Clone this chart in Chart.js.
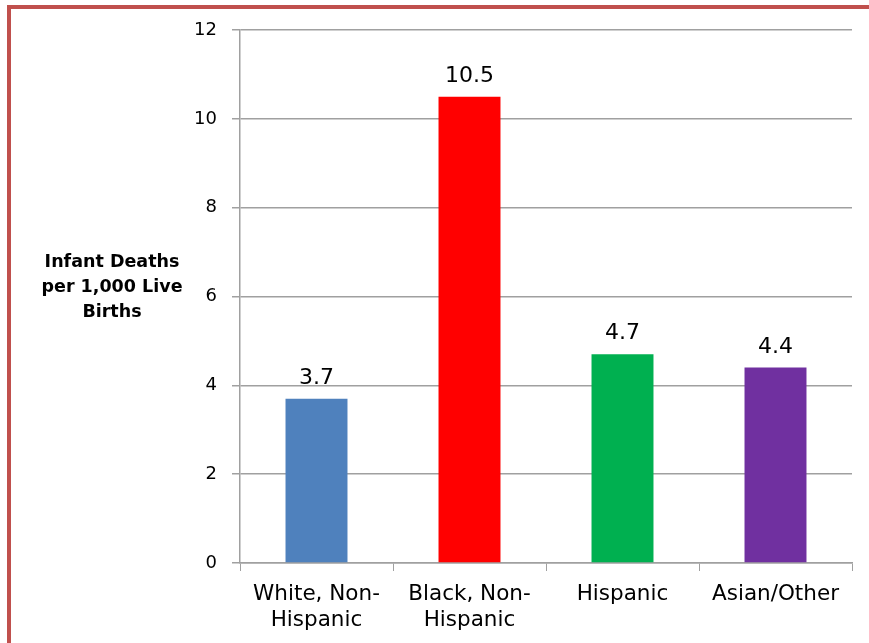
<!DOCTYPE html>
<html>
<head>
<meta charset="utf-8">
<script src="https://cdn.jsdelivr.net/npm/chart.js@4/dist/chart.umd.min.js"></script>
<style>
  html, body { margin: 0; padding: 0; background: #fff; overflow: hidden; }
  #wrap { position: relative; width: 869px; height: 643px; }
  #frame { position: absolute; left: 7px; top: 5px; right: -10px; bottom: -10px;
           border-left: 4px solid #C0504D; border-top: 4px solid #C0504D; pointer-events: none; }
  canvas { position: absolute; left: 0; top: 0; }
</style>
</head>
<body>
<div id="wrap">
  <canvas id="c" width="869" height="643"></canvas>
  <div id="frame"></div>
</div>
<script>
const categories = [["White, Non-", "Hispanic"], ["Black, Non-", "Hispanic"], ["Hispanic"], ["Asian/Other"]];
const values = [3.7, 10.5, 4.7, 4.4];
const barColors = ["#4F81BD", "#FF0000", "#00B050", "#7030A0"];
const yTitleLines = ["Infant Deaths", "per 1,000 Live", "Births"];
const yMin = 0, yMax = 12, yStep = 2;

const FONT = "'DejaVu Sans', Verdana, sans-serif";
const GRID = "#a0a0a0";

const valueLabels = {
  id: "valueLabels",
  afterDatasetsDraw(chart) {
    const ctx = chart.ctx;
    const meta = chart.getDatasetMeta(0);
    ctx.save();
    ctx.font = "22px " + FONT;
    ctx.fillStyle = "#000";
    ctx.textAlign = "center";
    ctx.textBaseline = "alphabetic";
    meta.data.forEach((bar, i) => {
      ctx.fillText(String(values[i]), bar.x, bar.y - 15);
    });
    ctx.restore();
  }
};

const yTitle = {
  id: "yTitle",
  afterDraw(chart) {
    const ctx = chart.ctx;
    ctx.save();
    ctx.font = "bold 17.5px " + FONT;
    ctx.fillStyle = "#000";
    ctx.textAlign = "center";
    ctx.textBaseline = "alphabetic";
    yTitleLines.forEach((t, i) => ctx.fillText(t, 112, 267 + i * 25));
    ctx.restore();
  }
};

new Chart(document.getElementById("c"), {
  type: "bar",
  data: {
    labels: categories,
    datasets: [{
      data: values,
      backgroundColor: barColors,
      borderWidth: 0,
      barPercentage: 0.405,
      categoryPercentage: 1.0
    }]
  },
  options: {
    responsive: false,
    animation: false,
    devicePixelRatio: 1,
    layout: { padding: { left: 0, top: 30, right: 17, bottom: 0 } },
    plugins: { legend: { display: false }, tooltip: { enabled: false }, title: { display: false } },
    scales: {
      x: {
        grid: { display: true, drawOnChartArea: false, drawTicks: true, tickLength: 8, color: GRID, offset: true },
        border: { display: true, color: GRID, width: 1.5 },
        ticks: { color: "#000", font: { family: FONT, size: 21.5, lineHeight: 1.2 }, padding: 11, maxRotation: 0, autoSkip: false },
        afterFit(s) { s.height = 80; }
      },
      y: {
        min: yMin, max: yMax,
        grid: { color: GRID, tickLength: 8, lineWidth: 1.5 },
        border: { display: true, color: GRID, width: 1.5 },
        ticks: { stepSize: yStep, color: "#000", font: { family: FONT, size: 18 }, padding: 15 },
        afterFit(s) { s.width = 240; }
      }
    }
  },
  plugins: [valueLabels, yTitle]
});
</script>
</body>
</html>
